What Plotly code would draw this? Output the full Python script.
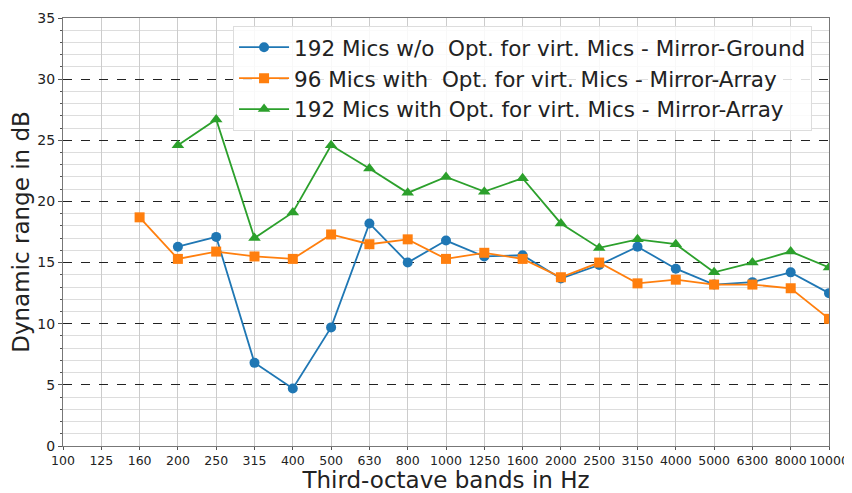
import plotly.graph_objects as go

# Bandas de terço de oitava
bandas = ['100', '125', '160', '200', '250', '315', '400', '500', '630', '800',
          '1000', '1250', '1600', '2000', '2500', '3150', '4000', '5000',
          '6300', '8000', '10000']

# Faixa dinâmica em dB
bandas_192 = bandas[3:]
bandas_96 = bandas[2:]
dr_192_sem_opt_ground = [16.3, 17.1, 6.8, 4.7, 9.7, 18.2, 15.0, 16.8, 15.5, 15.6,
                         13.7, 14.8, 16.3, 14.5, 13.2, 13.4, 14.2, 12.5]
dr_96_com_opt_array = [18.7, 15.3, 15.9, 15.5, 15.3, 17.3, 16.5, 16.9, 15.3, 15.8,
                       15.3, 13.8, 15.0, 13.3, 13.6, 13.2, 13.2, 12.9, 10.4]
dr_192_com_opt_array = [24.6, 26.7, 17.0, 19.1, 24.6, 22.7, 20.7, 22.0, 20.8, 21.9,
                        18.2, 16.2, 16.9, 16.5, 14.2, 15.0, 15.9, 14.6]

nomes = ['192 Mics w/o  Opt. for virt. Mics - Mirror-Ground',
         '96 Mics with  Opt. for virt. Mics - Mirror-Array',
         '192 Mics with Opt. for virt. Mics - Mirror-Array']

fig = go.Figure()
fig.add_trace(go.Scatter(x=bandas_192, y=dr_192_sem_opt_ground, name=nomes[0],
                         mode='lines+markers', line=dict(color='#1f77b4', width=1.8),
                         marker=dict(symbol='circle', size=10, color='#1f77b4')))
fig.add_trace(go.Scatter(x=bandas_96, y=dr_96_com_opt_array, name=nomes[1],
                         mode='lines+markers', line=dict(color='#ff7f0e', width=1.8),
                         marker=dict(symbol='square', size=10, color='#ff7f0e')))
fig.add_trace(go.Scatter(x=bandas_192, y=dr_192_com_opt_array, name=nomes[2],
                         mode='lines+markers', line=dict(color='#2ca02c', width=1.8),
                         marker=dict(symbol='triangle-up', size=11, color='#2ca02c')))

# a página tem margem de 8px, por isso a figura é um pouco menor
fig.update_layout(
    width=844, height=485,
    margin=dict(l=55, r=23, t=10, b=47),
    paper_bgcolor='white', plot_bgcolor='white',
    font=dict(family='DejaVu Sans', color='#222'),
    showlegend=True,
    legend=dict(x=0.222, y=0.982, xanchor='left', yanchor='top',
                bgcolor='rgba(255,255,255,0.85)', bordercolor='#dddddd', borderwidth=1,
                font=dict(size=21.5, family='DejaVu Sans', color='#222'),
                tracegroupgap=0, itemwidth=50),
)

fig.update_xaxes(
    type='category', categoryorder='array', categoryarray=bandas,
    range=[0, 20], tickmode='array', tickvals=bandas, ticktext=bandas,
    tickangle=0, automargin=False,
    showgrid=True, gridcolor='#cccccc', gridwidth=1,
    showline=True, linecolor='#777777', mirror=True,
    ticks='outside', ticklen=3, tickcolor='#555',
    tickfont=dict(size=12.5), zeroline=False,
    title=dict(text='Third-octave bands in Hz', font=dict(size=23), standoff=2),
)
fig.update_yaxes(
    range=[0, 35], dtick=5, tick0=0, automargin=False,
    showgrid=True, gridcolor='#222222', griddash='dash', gridwidth=1,
    minor=dict(dtick=1, showgrid=True, gridcolor='#dddddd', gridwidth=1,
               griddash='solid', ticks='outside', ticklen=2, tickcolor='#555'),
    showline=True, linecolor='#777777', mirror=True,
    ticks='outside', ticklen=4, tickcolor='#555',
    tickfont=dict(size=14), zeroline=False,
    title=dict(text='Dynamic range in dB', font=dict(size=23), standoff=4),
)

fig.write_html('out.html')
